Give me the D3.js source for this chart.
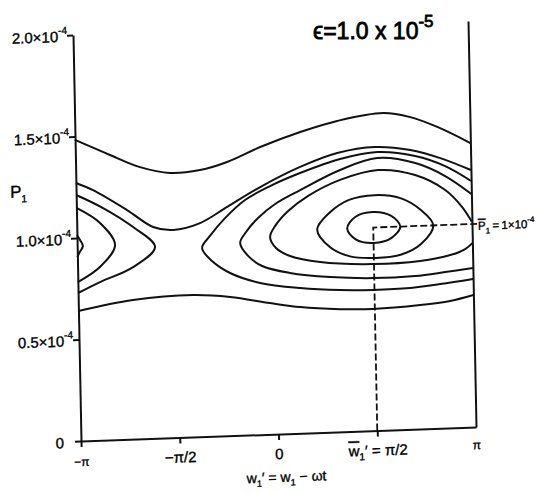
<!DOCTYPE html>
<html>
<head>
<meta charset="utf-8">
<script src="https://cdn.jsdelivr.net/npm/d3@7"></script>
<style>
  html, body { margin: 0; padding: 0; background: #fff; overflow: hidden; }
  svg { display: block; }
  text { font-family: "Liberation Sans", Arial, sans-serif; fill: #000; stroke: #000; stroke-width: 0.35px; }
</style>
</head>
<body>
<svg id="chart" width="537" height="493"></svg>
<script>
// Phase w1' is given in units of π, momentum P1 in units of 1e-4.

// Axis ticks
const xTicks = [-1, -0.5, 0, 0.5, 1];
const yTicks = [0, 0.5, 1.0, 1.5, 2.0];
const yTickBase = ["0", "0.5×10", "1.0×10", "1.5×10", "2.0×10"];
const yTickExp = ["", "-4", "-4", "-4", "-4"];

// Resonance centre
const wBar = 0.5;
const pBar = 1.0;

// Circulating orbits (span the full phase range)
const topOrbit = [[-1, 1.483], [-0.825, 1.403], [-0.674, 1.338], [-0.523, 1.304], [-0.371, 1.313],
  [-0.233, 1.348], [-0.064, 1.416], [0.140, 1.483], [0.328, 1.531], [0.562, 1.562],
  [0.698, 1.537], [0.834, 1.484], [1.0, 1.399]];
const upperOrbit = [[-1, 1.271], [-0.914, 1.233], [-0.744, 1.129], [-0.614, 1.041], [-0.513, 1.023],
  [-0.376, 1.052], [-0.237, 1.127], [-0.068, 1.219], [0.136, 1.311], [0.325, 1.373],
  [0.518, 1.396], [0.695, 1.375], [0.846, 1.330], [1.0, 1.266]];
const lowerOrbit = [[-1, 0.640], [-0.723, 0.685], [-0.419, 0.699], [-0.231, 0.683], [-0.030, 0.646],
  [0.122, 0.621], [0.324, 0.604], [0.491, 0.599], [0.730, 0.610], [0.882, 0.625], [1.0, 0.650]];

// Librating orbits that cross w1' = π and reappear at w1' = -π
const island5 = [[1.0, 1.212], [0.870, 1.290], [0.719, 1.345], [0.528, 1.371], [0.339, 1.343],
  [0.135, 1.281], [-0.018, 1.222], [-0.146, 1.158], [-0.249, 1.072], [-0.327, 0.987],
  [-0.368, 0.929], [-0.319, 0.863], [-0.229, 0.801], [-0.078, 0.747], [0.124, 0.715],
  [0.326, 0.698], [0.493, 0.693], [0.681, 0.696], [0.833, 0.710], [1.0, 0.729]];
const island5Wrap = [[-1, 1.212], [-0.865, 1.143], [-0.715, 1.044], [-0.606, 0.942],
  [-0.719, 0.847], [-0.888, 0.779], [-1, 0.729]];

const island4 = [[1.0, 1.148], [0.869, 1.241], [0.719, 1.310], [0.527, 1.341], [0.338, 1.289],
  [0.134, 1.197], [0.006, 1.133], [-0.082, 1.067], [-0.144, 1.0], [-0.175, 0.947],
  [-0.136, 0.882], [-0.066, 0.830], [0.074, 0.791], [0.277, 0.764], [0.494, 0.751],
  [0.707, 0.754], [0.860, 0.768], [1.0, 0.783]];
const island4Wrap = [[-1, 1.148], [-0.882, 1.070], [-0.808, 0.959], [-0.887, 0.853], [-1, 0.783]];

const island3 = [[1.0, 1.010], [0.952, 1.085], [0.868, 1.172], [0.717, 1.251], [0.531, 1.282],
  [0.337, 1.240], [0.174, 1.167], [0.071, 1.096], [0.004, 1.025], [-0.023, 0.971],
  [0.006, 0.916], [0.076, 0.874], [0.228, 0.839], [0.496, 0.820], [0.734, 0.827],
  [0.887, 0.851], [0.963, 0.878], [1.0, 0.906]];
const island3Wrap = [[-1, 1.015], [-0.985, 0.990], [-0.971, 0.959], [-0.987, 0.931], [-1, 0.906]];

// Closed librating orbits around the centre
const island2 = [[0.216, 1.0], [0.28, 1.08], [0.38, 1.14], [0.51, 1.159], [0.64, 1.14], [0.74, 1.08],
  [0.804, 1.0], [0.74, 0.91], [0.64, 0.862], [0.51, 0.85], [0.38, 0.862], [0.28, 0.91]];
const island1 = [[0.368, 1.0], [0.41, 1.055], [0.50, 1.076], [0.59, 1.055], [0.637, 1.0],
  [0.59, 0.945], [0.50, 0.924], [0.41, 0.945]];

const openOrbits = [topOrbit, upperOrbit, lowerOrbit, island5, island5Wrap,
  island4, island4Wrap, island3, island3Wrap];
const closedOrbits = [island2, island1];

// Layout
const W = 395, H = 406;
const svg = d3.select("#chart");
const x = d3.scaleLinear().domain([-1, 1]).range([0, W]);
const y = d3.scaleLinear().domain([0, 2]).range([H, 0]);

// the plotting frame is drawn slightly skewed, as on the printed sheet
const g = svg.append("g").attr("transform", "matrix(1,-0.0354,0.0197,1,73,35)");

const ink = "#111";
const lineOpen = d3.line().x(d => x(d[0])).y(d => y(d[1])).curve(d3.curveCatmullRom.alpha(0.5));
const lineClosed = d3.line().x(d => x(d[0])).y(d => y(d[1])).curve(d3.curveCatmullRomClosed.alpha(0.5));

// Axes
const yAxis = g.append("g")
  .call(d3.axisLeft(y).tickValues(yTicks).tickSize(6).tickSizeOuter(0).tickPadding(1).tickFormat(""));
const xAxis = g.append("g").attr("transform", `translate(0,${H})`)
  .call(d3.axisBottom(x).tickValues(xTicks).tickSize(6).tickSizeOuter(0).tickFormat(""));
const rAxis = g.append("g").attr("transform", `translate(${x(1)},0)`)
  .call(d3.axisRight(y).tickValues([]).tickSizeOuter(0));
g.selectAll(".domain, .tick line").attr("stroke", ink).attr("stroke-width", 2);
xAxis.selectAll(".tick line").filter(d => d === 1).remove();

// Y tick labels with exponent
yAxis.selectAll(".tick").each(function(d, i) {
  const t = d3.select(this).append("text")
    .attr("x", d === 0 ? -17 : -6).attr("y", 6).attr("text-anchor", "end")
    .attr("font-size", 15);
  t.append("tspan").text(yTickBase[i]);
  if (yTickExp[i]) {
    t.append("tspan").attr("font-size", 10).attr("dy", -8).text(yTickExp[i]);
  }
});

// X tick labels
xAxis.selectAll(".tick").each(function(d) {
  const t = d3.select(this).append("text").attr("y", 25).attr("text-anchor", "middle");
  if (d === -1) {
    t.attr("font-size", 12).text("−π");
  } else if (d === -0.5) {
    t.attr("font-size", 15).text("−π/2");
  } else if (d === 0) {
    t.attr("font-size", 15).text("0");
  } else if (d === 0.5) {
    t.attr("font-size", 15);
    t.append("tspan").style("text-decoration", "overline").text("w");
    t.append("tspan").attr("font-size", 10).attr("dy", 4).text("1");
    t.append("tspan").attr("dy", -4).text("′ = π/2");
  } else {
    t.attr("font-size", 12).attr("y", 22).text("π");
  }
});

// Orbits
g.selectAll("path.orbit-open").data(openOrbits).join("path")
  .attr("class", "orbit-open")
  .attr("d", lineOpen).attr("fill", "none").attr("stroke", ink).attr("stroke-width", 2);
g.selectAll("path.orbit-closed").data(closedOrbits).join("path")
  .attr("class", "orbit-closed")
  .attr("d", lineClosed).attr("fill", "none").attr("stroke", ink).attr("stroke-width", 2);

// Dashed guides to the resonance centre
g.append("path")
  .attr("d", d3.line()([[x(wBar), y(0)], [x(wBar), y(pBar)], [x(1) + 5, y(pBar)]]))
  .attr("fill", "none").attr("stroke", ink).attr("stroke-width", 1.8).attr("stroke-dasharray", "7,3");

const pLab = g.append("text").attr("x", x(1) + 6).attr("y", y(pBar) + 6).attr("font-size", 11.5);
pLab.append("tspan").style("text-decoration", "overline").text("P");
pLab.append("tspan").attr("font-size", 8).attr("dy", 4).text("1");
pLab.append("tspan").attr("dy", -4).text("\u2009=\u20091×10");
pLab.append("tspan").attr("font-size", 8).attr("dy", -6).text("-4");

// Axis titles
const yTitle = g.append("text").attr("x", -66).attr("y", y(1.21)).attr("font-size", 17);
yTitle.append("tspan").text("P");
yTitle.append("tspan").attr("font-size", 10).attr("dy", 5).text("1");

const xTitle = g.append("text").attr("x", x(-0.165)).attr("y", H + 48).attr("font-size", 14);
xTitle.append("tspan").text("w");
xTitle.append("tspan").attr("font-size", 9).attr("dy", 4).text("1");
xTitle.append("tspan").attr("dy", -4).text("′ = w");
xTitle.append("tspan").attr("font-size", 9).attr("dy", 4).text("1");
xTitle.append("tspan").attr("dy", -4).text(" − ωt");

// Title
const title = svg.append("text").attr("x", 313).attr("y", 39).attr("font-size", 23)
  .style("stroke-width", "0.8px");
title.append("tspan").text("ϵ=1.0 x 10");
title.append("tspan").attr("font-size", 17).attr("dy", -12).text("-5");
</script>
</body>
</html>
